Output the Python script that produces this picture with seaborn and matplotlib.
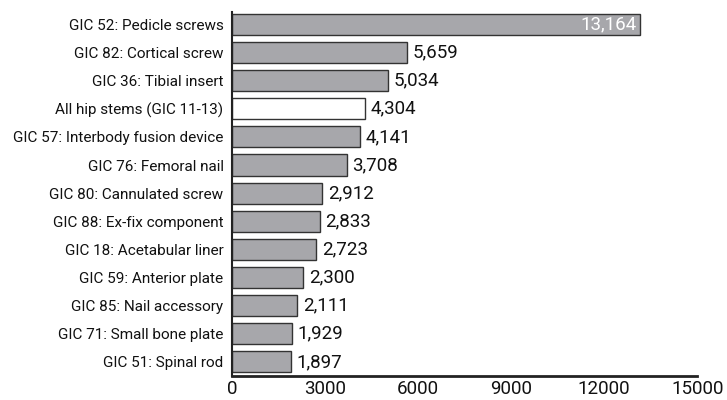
import matplotlib
matplotlib.use("Agg")
import matplotlib.pyplot as plt
import seaborn as sns
import pandas as pd

categories = [
    "GIC 52: Pedicle screws",
    "GIC 82: Cortical screw",
    "GIC 36: Tibial insert",
    "All hip stems (GIC 11-13)",
    "GIC 57: Interbody fusion device",
    "GIC 76: Femoral nail",
    "GIC 80: Cannulated screw",
    "GIC 88: Ex-fix component",
    "GIC 18: Acetabular liner",
    "GIC 59: Anterior plate",
    "GIC 85: Nail accessory",
    "GIC 71: Small bone plate",
    "GIC 51: Spinal rod",
]
counts = [13164, 5659, 5034, 4304, 4141, 3708, 2912, 2833, 2723, 2300, 2111, 1929, 1897]
highlight = "All hip stems (GIC 11-13)"
x_ticks = [0, 3000, 6000, 9000, 12000, 15000]

df = pd.DataFrame({"category": categories, "count": counts})
palette = {c: ("#ffffff" if c == highlight else "#a7a7ab") for c in categories}

sns.set_style("white")
plt.rcParams["font.family"] = ["Roboto", "DejaVu Sans"]

fig = plt.figure(figsize=(7.27, 4.0), dpi=100)
ax = fig.add_axes([0.319, 0.06, 0.64, 0.91])

sns.barplot(data=df, x="count", y="category", hue="category", palette=palette,
            legend=False, width=0.75, edgecolor="#333333", linewidth=1.0,
            saturation=1, ax=ax)

ax.set_xlim(0, 15000)
ax.set_ylim(len(categories) - 0.5, -0.44)
ax.set_xticks(x_ticks)
ax.set_xticklabels([str(t) for t in x_ticks], fontsize=13.5)
ax.tick_params(axis="x", direction="in", length=7, width=2, color="#222222",
               pad=3, labelcolor="#111111")
ax.tick_params(axis="y", length=0, labelsize=11, pad=6, labelcolor="#111111")
ax.set_xlabel("")
ax.set_ylabel("")

for side in ("top", "right"):
    ax.spines[side].set_visible(False)
ax.spines["left"].set_linewidth(1.5)
ax.spines["left"].set_color("#222222")
ax.spines["bottom"].set_linewidth(2)
ax.spines["bottom"].set_color("#222222")

for i, v in enumerate(counts):
    txt = f"{v:,}"
    if i == 0:
        ax.text(v - 120, i, txt, ha="right", va="center", fontsize=13.5, color="white")
    else:
        ax.text(v + 180, i, txt, ha="left", va="center", fontsize=13.5, color="#111111")

fig.savefig("out.png", dpi=100)
